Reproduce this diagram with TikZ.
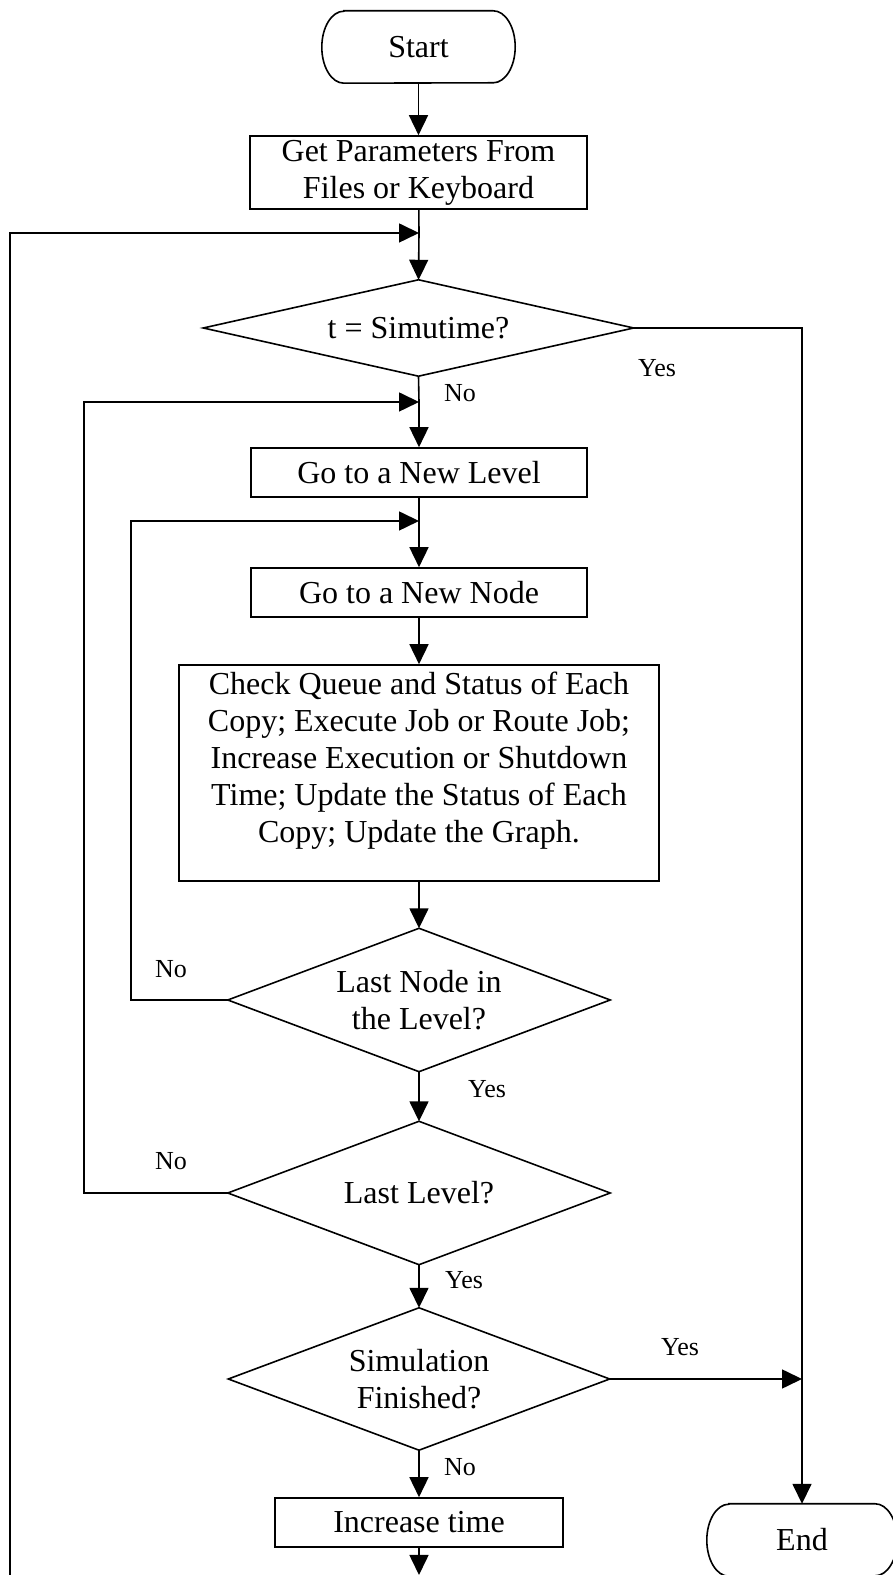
\documentclass[tikz,border=0pt]{standalone}
\usepackage{fontspec}
\setmainfont{Liberation Serif}
\usetikzlibrary{arrows.meta,calc}

% rounded terminal outline drawn around an (invisible) rectangle node
\newcommand{\terminalshape}[1]{%
  \draw[wire] ([xshift=22pt]#1.north west) -- ([xshift=-22pt]#1.north east)
    arc[start angle=90,end angle=-90,x radius=22pt,y radius=36pt]
    -- ([xshift=22pt]#1.south west)
    arc[start angle=270,end angle=90,x radius=22pt,y radius=36pt] -- cycle;}
% decision outline through the four side midpoints of a rectangle node
\newcommand{\decisionshape}[1]{%
  \draw[wire] (#1.north) -- (#1.east) -- (#1.south) -- (#1.west) -- cycle;}

\begin{document}
\begin{tikzpicture}[x=1pt,y=1pt,
  every node/.style={font=\fontsize{32}{37}\selectfont},
  wire/.style={line width=1.6pt,line join=miter},
  flow/.style={line width=1.6pt,-{Triangle[length=20pt,width=19pt]}},
  procbox/.style={draw,line width=1.6pt,minimum height=49pt,inner sep=0pt},
  decision/.style={rectangle,inner sep=0pt,align=center},
  term/.style={minimum width=193pt,minimum height=72pt,inner sep=0pt},
  tag/.style={font=\fontsize{26}{30}\selectfont,inner sep=0pt}]

\useasboundingbox (0,0) rectangle (892,1575);

% main column
\node[term] (start) at (418.5,1528) {Start};
\terminalshape{start}
\node[procbox,minimum width=337pt,minimum height=73pt,align=center] (params) at (418.5,1402.5)
  {Get Parameters From\\Files or Keyboard};
\node[decision,minimum width=430pt,minimum height=96pt] (d1) at (418.5,1247) {t = Simutime?};
\decisionshape{d1}
\node[procbox,minimum width=336pt] (level) at (419,1102.5) {Go to a New Level};
\node[procbox,minimum width=336pt] (newnode) at (419,982.5) {Go to a New Node};
\node[draw,line width=1.6pt,minimum width=480pt,minimum height=216pt,inner sep=0pt] (work) at (419,802) {};
\node[align=center,inner sep=0pt] (worktext) at (419,814)
  {Check Queue and Status of Each\\Copy; Execute Job or Route Job;\\Increase Execution or Shutdown\\Time; Update the Status of Each\\Copy; Update the Graph.};
\node[decision,minimum width=382pt,minimum height=143pt] (d2) at (419,575) {Last Node in\\the Level?};
\decisionshape{d2}
\node[decision,minimum width=382pt,minimum height=143pt] (d3) at (419,382) {Last Level?};
\decisionshape{d3}
\node[decision,minimum width=381pt,minimum height=142pt] (d4) at (419,196) {Simulation\\Finished?};
\decisionshape{d4}
\node[procbox,minimum width=288pt] (inc) at (419,52.5) {Increase time};
\node[term,minimum width=190pt] (end) at (802,35) {End};
\terminalshape{end}

% junction points and loop corners
\coordinate (j1) at (419,1342);
\coordinate (j2) at (419,1173);
\coordinate (j3) at (419,1054);
\coordinate (c1) at (10,0);
\coordinate (c2) at (84,382);
\coordinate (c3) at (131,575);
\coordinate (rc) at (802,196);
\coordinate (bot) at (419,0);

% connectors
\draw[flow] (start) -- (params);
\draw[wire] (params) -- (j1);
\draw[flow] (j1) -- (d1.north);
\draw[flow] (c1) |- (j1);
\draw[wire] (d1.south) -- (j2);
\draw[flow] (j2) -- (level);
\draw[flow] (d3.west) -- (c2) |- (j2);
\draw[wire] (level) -- (j3);
\draw[flow] (j3) -- (newnode);
\draw[flow] (d2.west) -- (c3) |- (j3);
\draw[flow] (newnode) -- (work);
\draw[flow] (work) -- (d2.north);
\draw[flow] (d2.south) -- (d3.north);
\draw[flow] (d3.south) -- (d4.north);
\draw[flow] (d4.south) -- (inc);
\draw[flow] (inc) -- (bot);
\draw[flow] (d1.east) -| (end.north);
\draw[flow] (d4.east) -- (rc);

% branch labels
\node[tag] (y1) at (657,1207) {Yes};
\node[tag] (n1) at (460,1182) {No};
\node[tag] (n2) at (171,606) {No};
\node[tag] (y2) at (487,486) {Yes};
\node[tag] (n3) at (171,414) {No};
\node[tag] (y3) at (464,295) {Yes};
\node[tag] (y4) at (680,228) {Yes};
\node[tag] (n4) at (460,108) {No};
\end{tikzpicture}
\end{document}
